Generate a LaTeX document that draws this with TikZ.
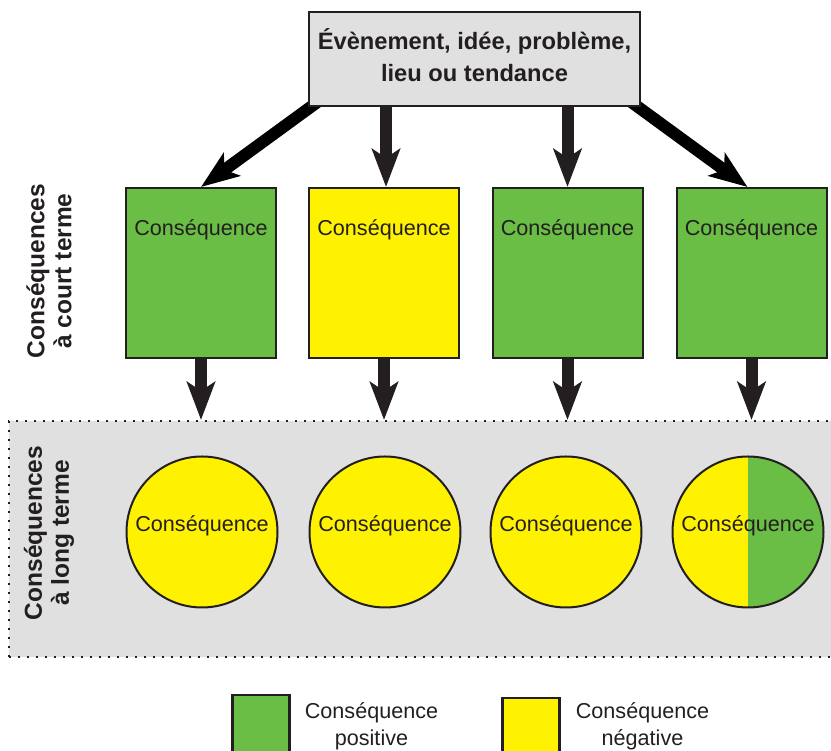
\documentclass[tikz,border=0pt]{standalone}
\usepackage{fontspec}
\setmainfont{Liberation Sans}
\usetikzlibrary{arrows.meta,backgrounds,positioning}
\definecolor{pgreen}{HTML}{6ABD45}
\definecolor{pyellow}{HTML}{FFF200}
\definecolor{pgray}{HTML}{E0E0E0}
\definecolor{ink}{HTML}{231F20}

\begin{document}
\begin{tikzpicture}[x=1pt,y=1pt,color=ink,
    bigarrow/.style={line width=12pt,-{Stealth[length=38pt,width=28pt,inset=9pt]}},
    shortbox/.style={draw,line width=2pt,fill=#1,minimum width=150pt,minimum height=170pt,inner sep=0pt},
    longcircle/.style={circle,draw,line width=2pt,fill=#1,minimum size=151pt,inner sep=0pt,
        text height=0pt,text depth=0pt,font=\fontsize{21.6}{26}\selectfont},
    boxtext/.style={anchor=base,inner sep=0pt,font=\fontsize{21.6}{26}\selectfont},
    sidetext/.style={rotate=90,align=center,inner sep=0pt,font=\bfseries\fontsize{24.5}{27}\selectfont},
    keybox/.style={draw,line width=2.5pt,fill=#1,minimum size=57pt,inner sep=0pt},
    keytext/.style={align=center,inner sep=0pt,font=\fontsize{21.6}{27}\selectfont}]

    \useasboundingbox (0,0) rectangle (831,751);
    \clip (0,0) rectangle (831,751);

    % long term band
    \node (band) at (427,212) [draw,fill=pgray,line width=2pt,dash pattern=on 2pt off 7pt,
        minimum width=836pt,minimum height=236pt,inner sep=0pt] {};

    \node (0) at (474.5,692) [draw,line width=2pt,fill=pgray,minimum width=331pt,minimum height=94pt,
        align=center,text depth=8pt,font=\bfseries\fontsize{23.7}{32}\selectfont]
        {Évènement, idée, problème,\\lieu ou tendance};

    % short term
    \node (1) at (201,478) [shortbox=pgreen] {};
    \node (2) at (384,478) [shortbox=pyellow] {};
    \node (3) at (567.5,478) [shortbox=pgreen] {};
    \node (4) at (751.5,478) [shortbox=pgreen] {};
    \foreach \i in {1,...,4}
        \node (t\i) at ([yshift=-49pt]\i.north) [boxtext] {Conséquence};

    % long term
    \node (5) at (202,219) [longcircle=pyellow] {Conséquence};
    \node (6) at (385,219) [longcircle=pyellow] {Conséquence};
    \node (7) at (566,219) [longcircle=pyellow] {Conséquence};
    \node (8) at (748,219) [longcircle=pyellow,
        path picture={\fill[pgreen] (path picture bounding box.north) rectangle (path picture bounding box.south east);}]
        {Conséquence};

    \node (s1) at (49,480) [sidetext] {Conséquences\\à court terme};
    \node (s2) at (49,218) [sidetext] {Conséquences\\à long terme};

    % arrows
    \begin{scope}[on background layer]
        \draw[bigarrow] ([shift={(15,9)}]0.south west) -- (1.north);
        \draw[bigarrow] ([shift={(-18,11)}]0.south east) -- ([xshift=-4pt]4.north);
    \end{scope}
    \draw[bigarrow] ([xshift=2pt]2.north |- 0.south) -- ([xshift=2pt]2.north);
    \draw[bigarrow] (3.north |- 0.south) -- (3.north);
    \foreach \i in {1,...,4}
        \draw[bigarrow] (\i.south) -- (\i.south |- band.north);

    % key
    \node (k1) at (261,27.5) [keybox=pgreen] {};
    \node (k2) at (531,24.5) [keybox=pyellow] {};
    \node (k1t) at (371.5,25) [keytext] {Conséquence\\positive};
    \node (k2t) at (642.5,25) [keytext] {Conséquence\\négative};

\end{tikzpicture}
\end{document}
